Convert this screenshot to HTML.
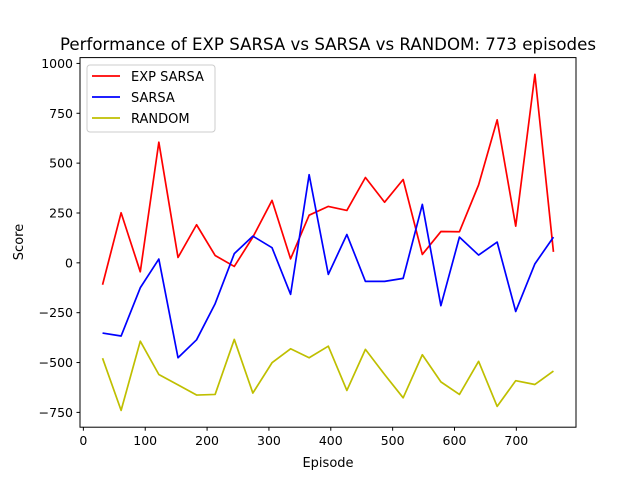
<!DOCTYPE html>
<html><head><meta charset="utf-8"><style>
html,body{margin:0;padding:0;background:#fff;}
svg text{font-family:"DejaVu Sans","Liberation Sans",sans-serif;fill:#000;}
</style></head><body>
<svg id="chart" width="640" height="480" viewBox="0 0 640 480" xmlns="http://www.w3.org/2000/svg">
<rect width="640" height="480" fill="#fff"/>
<text x="328" y="50" text-anchor="middle" font-size="16.5" textLength="536" lengthAdjust="spacingAndGlyphs">Performance of EXP SARSA vs SARSA vs RANDOM: 773 episodes</text>
<g id="series"></g>
<rect x="80" y="57.6" width="496" height="369.6" fill="none" stroke="#000" stroke-width="1"/>
<g id="xticks"></g>
<g id="yticks"></g>
<text x="328" y="467" text-anchor="middle" font-size="13">Episode</text>
<text transform="translate(23,242) rotate(-90)" text-anchor="middle" font-size="13">Score</text>
<g>
<rect x="87" y="65" width="128" height="67" rx="3" fill="#fff" fill-opacity="0.8" stroke="#ccc"/>
<line x1="92" y1="76" x2="120" y2="76" stroke="#ff0000" stroke-width="1.7"/>
<text x="131" y="81" font-size="13">EXP SARSA</text>
<line x1="92" y1="97" x2="120" y2="97" stroke="#0000ff" stroke-width="1.7"/>
<text x="131" y="102" font-size="13">SARSA</text>
<line x1="92" y1="118" x2="120" y2="118" stroke="#bfbf00" stroke-width="1.7"/>
<text x="131" y="123" font-size="13">RANDOM</text>
</g>
</svg>
<script>
const episodes = [31,61,92,122,153,183,213,244,274,305,335,365,396,426,456,487,517,548,578,608,639,669,699,730,760];
const expSarsa = [-110,251,-45,605,27,191,37,-18,129,313,20,239,283,263,428,304,418,42,157,156,391,717,184,945,55];
const sarsa = [-352,-367,-125,19,-476,-386,-205,46,134,76,-158,442,-58,142,-93,-93,-78,293,-215,129,39,104,-244,-5,129];
const randomScores = [-478,-740,-393,-560,-612,-663,-660,-384,-653,-501,-431,-476,-418,-640,-434,-560,-677,-461,-597,-660,-494,-720,-591,-610,-543];
const xTicks = [0,100,200,300,400,500,600,700];
const yTicks = [-750,-500,-250,0,250,500,750,1000];

const NS = "http://www.w3.org/2000/svg";
const L = 80, R = 576, T = 57.6, B = 427.2;
const xmin0 = Math.min(...episodes), xmax0 = Math.max(...episodes);
const xm = (xmax0 - xmin0) * 0.05;
const xlo = xmin0 - xm, xhi = xmax0 + xm;
const allY = expSarsa.concat(sarsa, randomScores);
const ymin0 = Math.min(...allY), ymax0 = Math.max(...allY);
const ym = (ymax0 - ymin0) * 0.05;
const ylo = ymin0 - ym, yhi = ymax0 + ym;
function sx(v){ return L + (v - xlo) / (xhi - xlo) * (R - L); }
function sy(v){ return B - (v - ylo) / (yhi - ylo) * (B - T); }

const seriesG = document.getElementById("series");
function addLine(vals, color, name){
  const p = document.createElementNS(NS, "polyline");
  p.setAttribute("points", vals.map((v,i)=>sx(episodes[i]).toFixed(2)+","+sy(v).toFixed(2)).join(" "));
  p.setAttribute("fill","none");
  p.setAttribute("stroke",color);
  p.setAttribute("stroke-width","1.7");
  p.setAttribute("stroke-linejoin","round");
  
  
  seriesG.appendChild(p);
}
addLine(expSarsa, "#ff0000", "exp-sarsa-line");
addLine(sarsa, "#0000ff", "sarsa-line");
addLine(randomScores, "#bfbf00", "random-line");

const xg = document.getElementById("xticks");
xTicks.forEach(t=>{
  const x = sx(t);
  const l = document.createElementNS(NS,"line");
  l.setAttribute("x1",x); l.setAttribute("x2",x); l.setAttribute("y1",B); l.setAttribute("y2",B+3.5);
  l.setAttribute("stroke","#000");
  
  
  xg.appendChild(l);
  const tx = document.createElementNS(NS,"text");
  tx.setAttribute("x",x); tx.setAttribute("y",B+18); tx.setAttribute("text-anchor","middle"); tx.setAttribute("font-size","12.5");
  tx.textContent = t;
  
  
  xg.appendChild(tx);
});
const yg = document.getElementById("yticks");
yTicks.forEach(t=>{
  const y = sy(t);
  const l = document.createElementNS(NS,"line");
  l.setAttribute("x1",L-3.5); l.setAttribute("x2",L); l.setAttribute("y1",y); l.setAttribute("y2",y);
  l.setAttribute("stroke","#000");
  
  
  yg.appendChild(l);
  const tx = document.createElementNS(NS,"text");
  tx.setAttribute("x",L-7); tx.setAttribute("y",y+4.5); tx.setAttribute("text-anchor","end"); tx.setAttribute("font-size","12.5");
  tx.textContent = t < 0 ? "\u2212" + Math.abs(t) : t;
  
  
  yg.appendChild(tx);
});
</script>
</body></html>
